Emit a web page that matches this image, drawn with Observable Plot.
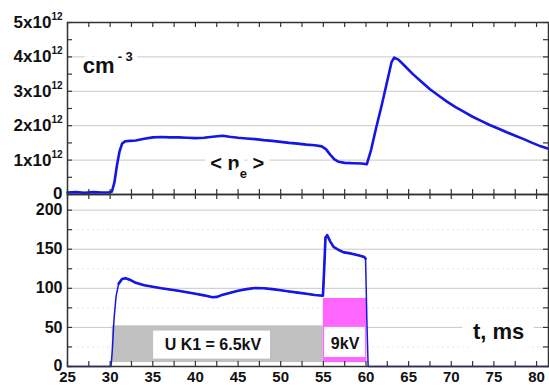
<!DOCTYPE html>
<html>
<head>
<meta charset="utf-8">
<script src="https://cdn.jsdelivr.net/npm/d3@7"></script>
<script src="https://cdn.jsdelivr.net/npm/@observablehq/plot@0.6"></script>
<style>
  body { margin: 0; background: #fff; }
  #chart { position: relative; width: 549px; height: 387px; font-family: "Liberation Sans", Arial, sans-serif; }
  #chart svg { position: absolute; left: 0; }
</style>
</head>
<body>
<div id="chart"></div>
<script>
// ---- Data: top panel, line-averaged density <n_e> (units of 1e12 cm^-3) ----
const tN = [25,26,27,28,29,29.8,30.2,30.5,30.8,31.1,31.4,31.8,32.3,33,34,35,36,37,38,39,40,41,42,43.2,44,45,46,47,48,49,50,51,52,53,54,54.8,55.3,55.8,56.3,56.8,57.5,58.5,59.5,60.1,60.6,61.2,61.8,62.4,63.0,63.3,63.8,64.5,65.5,66.5,67.5,68.5,69.5,70.5,71.5,72.5,73.5,74.5,75.5,76.5,77.5,78.5,79.5,80.5,81.4];
const nE = [0.06,0.07,0.05,0.07,0.06,0.06,0.08,0.35,0.85,1.25,1.48,1.55,1.56,1.57,1.62,1.66,1.67,1.66,1.66,1.65,1.64,1.65,1.68,1.71,1.68,1.65,1.63,1.61,1.58,1.56,1.53,1.50,1.48,1.45,1.43,1.40,1.32,1.16,1.02,0.95,0.92,0.91,0.90,0.88,1.30,1.95,2.55,3.2,3.85,3.98,3.92,3.75,3.50,3.28,3.06,2.88,2.70,2.54,2.40,2.26,2.14,2.02,1.92,1.81,1.71,1.61,1.50,1.40,1.33];

// ---- Data: bottom panel signal ----
const tI = [25,30.1,30.25,30.45,30.7,31.0,31.4,31.8,32.3,33,34,35,36,37,38,39,40,41,42,42.5,43,44,45,46,47,48,49,50,51,52,53,54,54.95,55.1,55.25,55.45,55.8,56.2,56.8,57.4,58,58.6,59.2,59.8,59.95,60.1,60.25,81.4];
const iV = [0,0,20,60,90,106,112,113,111,107,104,102,100,98.5,97,95,93,91,88.5,89,91,94,97,99,100.5,100,99,97.5,96,94.5,93,91.5,90.5,125,165,168,160,153,149,146,145,143.5,142,140,138,60,0,0];

// ---- Voltage pulses (bottom panel) ----
const pulseStart = [30.25, 55.0];
const pulseEnd   = [55.0, 60.1];
const pulseBase  = [5, 5];
const pulseTop   = [52, 87];

// ---- Pulse labels ----
const pulseLabel   = ["U K1 = 6.5kV", "9kV"];
const labelLeft    = [35.1, 55.15];
const labelRight   = [48.8, 59.95];
const labelBottom  = [9.5, 11.5];
const labelTop     = [45.3, 50];
const labelT       = [42.05, 57.55];
const labelV       = [27.8, 29];

// ---- Ticks ----
const xTicks = [25,30,35,40,45,50,55,60,65,70,75,80];
const topYTicks = [0,1,2,3,4,5];
const botYTicks = [0,50,100,150,200];

const FONT = '"Liberation Sans", Arial, Helvetica, sans-serif';
const BLUE = "#1616e4";
const AX = "#333";
const GRID = "#c8c8c8";
const W = 549, ML = 67, MR = 1;
const FW = W - ML - MR;
const xDomain = [25, 81.4];

const xMinor = d3.range(25, 81, 2.5);
const topMinor = d3.range(0, 5.01, 0.5);
const botMinor = d3.range(0, 220, 25);

function frameTicks(FH, xs, ys) {
  return [
    Plot.tickY(ys, {y: d => d, insetRight: FW - 5, stroke: AX, strokeWidth: 1.2}),
    Plot.tickY(ys, {y: d => d, insetLeft: FW - 5, stroke: AX, strokeWidth: 1.2}),
    Plot.tickX(xs, {x: d => d, insetBottom: FH - 5, stroke: AX, strokeWidth: 1.2}),
    Plot.tickX(xs, {x: d => d, insetTop: FH - 5, stroke: AX, strokeWidth: 1.2}),
    Plot.frame({stroke: AX, strokeWidth: 1.5})
  ];
}

// ---------------- Top panel ----------------
const topData = tN.map((t, i) => ({t, n: nE[i]}));
const TOP_H = 194, TOP_MT = 22;
const topSvg = Plot.plot({
  width: W, height: TOP_H,
  marginTop: TOP_MT, marginBottom: 0, marginLeft: ML, marginRight: MR,
  style: {fontFamily: FONT, background: "transparent", overflow: "visible", color: "#111"},
  x: {domain: xDomain, axis: null},
  y: {domain: [0, 5]},
  marks: [
    Plot.ruleY([1, 2, 3, 4], {stroke: GRID, strokeWidth: 1}),
    Plot.text(["cm"], {x: [26.8], y: [3.75], text: d => d, textAnchor: "start", fontSize: 22, fontWeight: "bold",
      fill: "#111", stroke: "white", strokeWidth: 10, paintOrder: "stroke"}),
    Plot.text(["< n"], {x: [44.9], y: [0.9], text: d => d, textAnchor: "middle", fontSize: 20, fontWeight: "bold",
      fill: "#111", stroke: "white", strokeWidth: 12, paintOrder: "stroke"}),
    Plot.line(topData, {x: "t", y: "n", stroke: BLUE, strokeWidth: 2.6}),
    ...frameTicks(TOP_H - TOP_MT, xMinor, topMinor),
    Plot.axisY({ticks: topYTicks, anchor: "left", tickSize: 0, tickPadding: 5, label: null,
      fontSize: 17, fontWeight: "bold", tickFormat: d => d === 0 ? "0" : `${d}x10`})
  ]
});

// ---------------- Bottom panel ----------------
const botData = tI.map((t, i) => ({t, v: iV[i]}));
const pulses = pulseStart.map((s, i) => ({x1: s, x2: pulseEnd[i], y1: pulseBase[i], y2: pulseTop[i], k: i}));
const labels = pulseLabel.map((s, i) => ({text: s, x1: labelLeft[i], x2: labelRight[i], y1: labelBottom[i], y2: labelTop[i], x: labelT[i], y: labelV[i]}));
const BOT_H = 193, BOT_MB = 21;
const botSvg = Plot.plot({
  width: W, height: BOT_H,
  marginTop: 0, marginBottom: BOT_MB, marginLeft: ML, marginRight: MR,
  style: {fontFamily: FONT, background: "transparent", overflow: "visible", color: "#111"},
  x: {domain: xDomain},
  y: {domain: [0, 220]},
  marks: [
    Plot.ruleY([25, 75, 125, 175], {stroke: "#e6e6e6", strokeDasharray: "2,3"}),
    Plot.ruleY([50, 100, 150, 200], {stroke: GRID, strokeWidth: 1}),
    Plot.rect(pulses, {x1: "x1", x2: "x2", y1: "y1", y2: "y2", fill: d => d.k === 0 ? "#c0c0c0" : "#ff66ff"}),
    Plot.rect(labels, {x1: "x1", x2: "x2", y1: "y1", y2: "y2", fill: "white"}),
    Plot.text(labels, {x: "x", y: "y", text: "text", fontSize: 16, fontWeight: "bold", fill: "#111"}),
    Plot.text(["t, ms"], {x: [75.55], y: [44.5], text: d => d, fontSize: 22, fontWeight: "bold",
      fill: "#111", stroke: "white", strokeWidth: 22, paintOrder: "stroke"}),
    Plot.line(botData, {x: "t", y: "v", stroke: BLUE, strokeWidth: 1.5}),
    Plot.line(botData.filter(d => d.t >= 30.9 && d.t <= 59.95), {x: "t", y: "v", stroke: BLUE, strokeWidth: 2.6}),
    ...frameTicks(BOT_H - BOT_MB, xMinor, botMinor),
    Plot.axisY({ticks: botYTicks, anchor: "left", tickSize: 0, tickPadding: 5, label: null,
      fontSize: 16, fontWeight: "bold"}),
    Plot.axisX({ticks: xTicks, anchor: "bottom", tickSize: 0, tickPadding: 5, label: null,
      fontSize: 15, fontWeight: "bold"})
  ]
});

topSvg.style.top = "0px";
botSvg.style.top = TOP_H + "px";
const chart = document.getElementById("chart");
chart.appendChild(botSvg);
chart.appendChild(topSvg);

// ---- rich text: superscripts / subscripts ----
d3.select(topSvg).selectAll("text").each(function () {
  const s = d3.select(this);
  const txt = this.textContent;
  if (/^\dx10$/.test(txt)) {
    s.append("tspan").attr("dy", "-8").attr("font-size", "10px").text("12");
  } else if (txt === "0") {
    s.attr("dy", "-0.05em");
  } else if (txt === "cm") {
    s.append("tspan").attr("dy", "-12").attr("dx", "3").attr("font-size", "13px").text("- 3");
  } else if (txt === "< n") {
    s.append("tspan").attr("dy", "8").attr("font-size", "13px").text("e");
    s.append("tspan").attr("dy", "-8").attr("font-size", "20px").text(" >");
  }
});
// bottom panel: lift the "0" label a little so it clears the x labels
d3.select(botSvg).selectAll('g[aria-label="y-axis tick label"] text').each(function () {
  if (this.textContent === "0") d3.select(this).attr("dy", "-0.05em");
});
</script>
</body>
</html>
